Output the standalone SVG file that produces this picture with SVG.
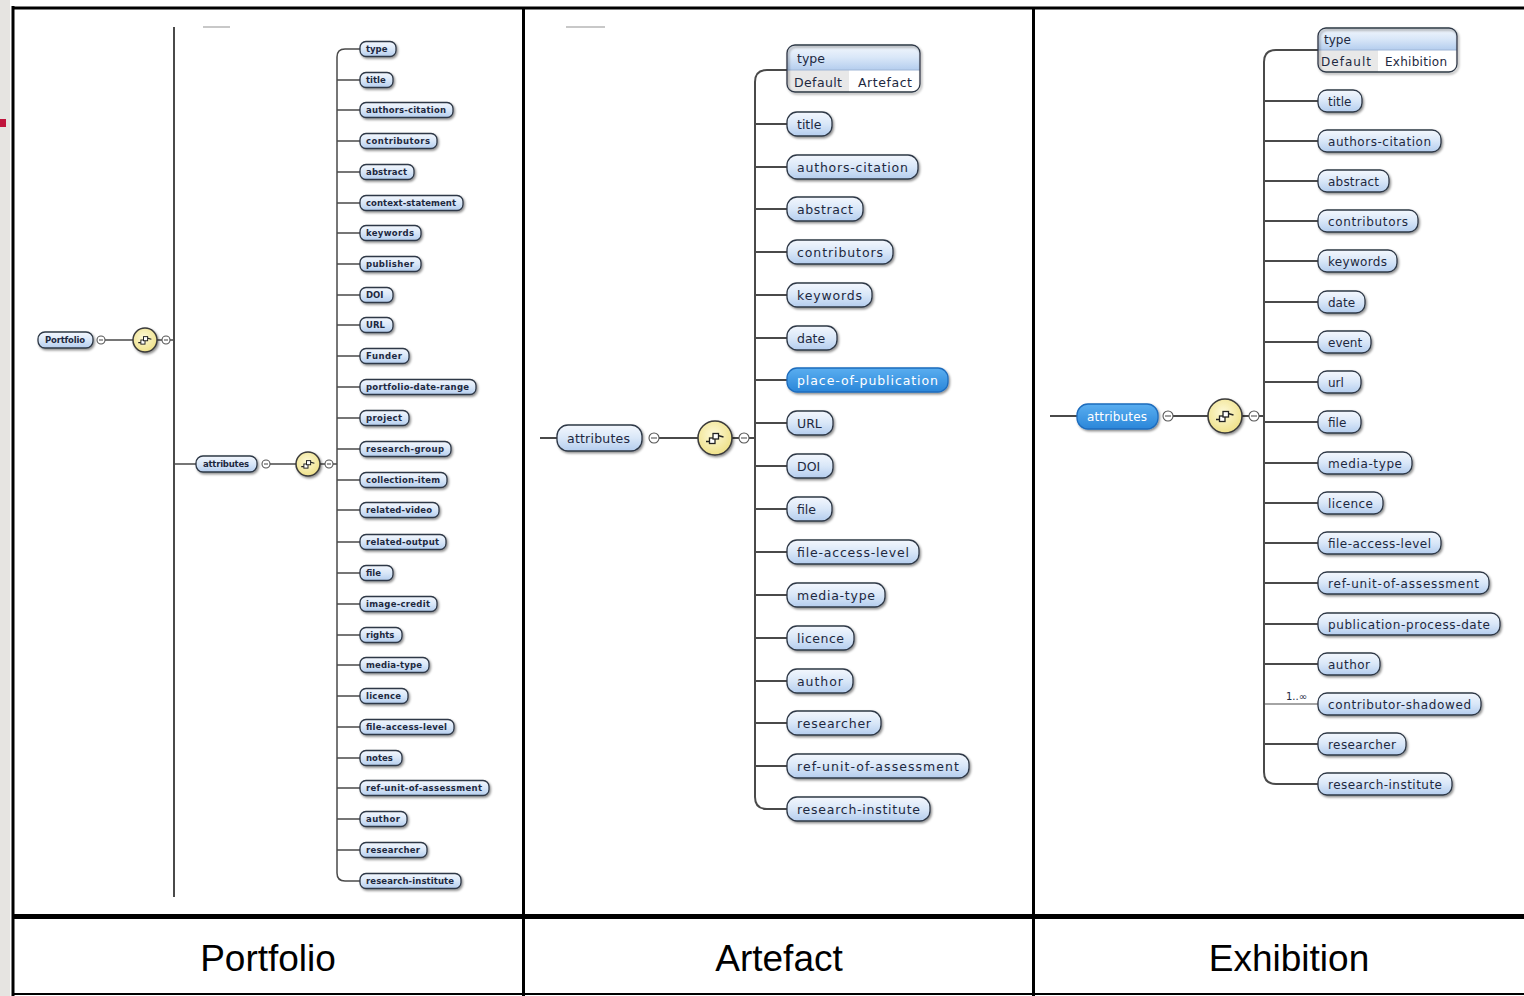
<svg xmlns="http://www.w3.org/2000/svg" xmlns:xlink="http://www.w3.org/1999/xlink" width="1524" height="996" viewBox="0 0 1524 996">
<defs>
<linearGradient id="gPill" x1="0" y1="0" x2="0" y2="1">
<stop offset="0" stop-color="#f3f7fd"/><stop offset="0.5" stop-color="#d9e7f8"/><stop offset="1" stop-color="#b4cdee"/>
</linearGradient>
<linearGradient id="gBlue" x1="0" y1="0" x2="0" y2="1">
<stop offset="0" stop-color="#5aaef0"/><stop offset="1" stop-color="#2a86d9"/>
</linearGradient>
<radialGradient id="gComp" cx="0.45" cy="0.4" r="0.6">
<stop offset="0" stop-color="#fdf9d8"/><stop offset="1" stop-color="#efe189"/>
</radialGradient>
<filter id="sh" x="-10%" y="-30%" width="125%" height="170%">
<feDropShadow dx="1.3" dy="1.6" stdDeviation="0.9" flood-color="#000" flood-opacity="0.45"/>
</filter>
<g id="seqicon">
<path d="M-9,3.5 H-5.5 M3,-2.5 L8.5,-1" fill="none" stroke="#222" stroke-width="1.4"/>
<rect x="-5.5" y="0" width="5.5" height="5.5" fill="#fff" stroke="#222" stroke-width="1.3"/>
<rect x="-2" y="-4.5" width="5.5" height="5.5" fill="#fff" stroke="#222" stroke-width="1.3"/>
</g>
</defs>
<style>
.pill{fill:url(#gPill);stroke:#2e3846;stroke-width:1.3;filter:url(#sh)}
.pblue{fill:url(#gBlue);stroke:#1e6cbd;stroke-width:1.3;filter:url(#sh)}
.tp{font-family:"DejaVu Sans",sans-serif;font-size:8.5px;font-weight:bold;fill:#1d2840}
.ta{font-family:"DejaVu Sans",sans-serif;font-size:12.5px;fill:#1d2840}
.te{font-family:"DejaVu Sans",sans-serif;font-size:12px;fill:#1d2840}
.tw{fill:#ffffff}
.conn{fill:none;stroke:#4a4a4a;stroke-width:2}
.connt{fill:none;stroke:#4a4a4a;stroke-width:1.5}
.comp{fill:url(#gComp);stroke:#3a3a3a;stroke-width:1.5;filter:url(#sh)}
.mc{fill:#fff;stroke:#555;stroke-width:1.1}
.ml{stroke:#555;stroke-width:1.1}
.frame{stroke:#000;fill:none}
.lbl{font-family:"Liberation Sans",Arial,sans-serif;font-size:37px;fill:#000;text-anchor:middle}
.hdr{fill:url(#gPill)}
.cell{fill:#e8e8e8}
.box{fill:none;stroke:#2e3846;stroke-width:1.3}
.faint{stroke:#c8c8c8;stroke-width:2}
.card{font-family:"DejaVu Sans",sans-serif;font-size:10px;fill:#1d2840}
</style>
<rect x="0" y="0" width="1524" height="996" fill="#ffffff"/>
<rect x="0" y="0" width="10" height="996" fill="#e6e4e1"/>
<rect x="0" y="119" width="6" height="8" fill="#c0143c"/>

<g id="frame">
<line class="frame" x1="13" y1="6" x2="13" y2="996" stroke-width="3"/>
<line class="frame" x1="12" y1="8" x2="1524" y2="8" stroke-width="3"/>
<line class="frame" x1="523.5" y1="7" x2="523.5" y2="996" stroke-width="3"/>
<line class="frame" x1="1033.5" y1="7" x2="1033.5" y2="996" stroke-width="3"/>
<line class="frame" x1="12" y1="916.5" x2="1524" y2="916.5" stroke-width="5"/>
<line class="frame" x1="12" y1="994" x2="1524" y2="994" stroke-width="2"/>
</g>

<g id="connectors">
<line class="faint" x1="203" y1="27" x2="230" y2="27"/>
<line class="faint" x1="566" y1="27" x2="605" y2="27"/>
<path class="connt" d="M105,340 H133 M157,340 H162 M170,340 H174"/>
<path class="conn" d="M174,27 V897"/>
<path class="connt" d="M174,464 H196 M270,464 H296 M320,464 H325 M333,464 H337"/>
<path class="connt" d="M360,49 H345 Q337,49 337,57 V873 Q337,881 345,881 H360"/>
<path class="connt" d="M337,80 H360 M337,110 H360 M337,141 H360 M337,172 H360 M337,203 H360 M337,233 H360 M337,264 H360 M337,295 H360 M337,325 H360 M337,356 H360 M337,387 H360 M337,418 H360 M337,449 H360 M337,480 H360 M337,510 H360 M337,542 H360 M337,573 H360 M337,604 H360 M337,635 H360 M337,665 H360 M337,696 H360 M337,727 H360 M337,758 H360 M337,788 H360 M337,819 H360 M337,850 H360"/>
<path class="conn" d="M540,438 H557 M659,438 H698 M732,438 H739 M749,438 H755"/>
<path class="conn" d="M787,70 H767 Q755,70 755,82 V797 Q755,809 767,809 H787"/>
<path class="conn" d="M755,124 H787 M755,167 H787 M755,209 H787 M755,252 H787 M755,295 H787 M755,338 H787 M755,380 H787 M755,423 H787 M755,466 H787 M755,509 H787 M755,552 H787 M755,595 H787 M755,638 H787 M755,681 H787 M755,723 H787 M755,766 H787"/>
<path class="conn" d="M1050,416 H1077 M1173,416 H1208 M1242,416 H1249 M1259,416 H1264"/>
<path class="conn" d="M1318,50 H1276 Q1264,50 1264,62 V772 Q1264,784 1276,784 H1318"/>
<path class="conn" d="M1264,101 H1318 M1264,141 H1318 M1264,181 H1318 M1264,221 H1318 M1264,261 H1318 M1264,302 H1318 M1264,342 H1318 M1264,382 H1318 M1264,422 H1318 M1264,463 H1318 M1264,503 H1318 M1264,543 H1318 M1264,583 H1318 M1264,624 H1318 M1264,664 H1318 M1264,744 H1318"/>
<path class="connt" d="M1264,704 H1318" style="stroke-width:1.2"/>
<text class="card" x="1286" y="700">1..∞</text>
</g>

<g id="p-root"><rect class="pill" x="38" y="332" width="55" height="16" rx="7"/><text class="tp" x="45" y="343" textLength="40">Portfolio</text></g>
<g id="p-root-minus"><circle class="mc" cx="101" cy="340" r="4"/><line class="ml" x1="99" y1="340" x2="103" y2="340"/></g>
<g id="p-seq1"><circle class="comp" cx="145" cy="340" r="12"/><use xlink:href="#seqicon" transform="translate(145,340) scale(0.75)"/></g>
<g id="p-seq1-minus"><circle class="mc" cx="166" cy="340" r="4"/><line class="ml" x1="164" y1="340" x2="168" y2="340"/></g>
<g id="p-attributes"><rect class="pill" x="196" y="456" width="61" height="16" rx="7"/><text class="tp" x="203" y="467" textLength="46">attributes</text></g>
<g id="p-attr-minus"><circle class="mc" cx="266" cy="464" r="4"/><line class="ml" x1="264" y1="464" x2="268" y2="464"/></g>
<g id="p-seq2"><circle class="comp" cx="308" cy="464" r="12"/><use xlink:href="#seqicon" transform="translate(308,464) scale(0.75)"/></g>
<g id="p-seq2-minus"><circle class="mc" cx="329" cy="464" r="4"/><line class="ml" x1="327" y1="464" x2="331" y2="464"/></g>

<g id="p-type"><rect class="pill" x="360" y="41.5" width="36" height="15" rx="6"/><text class="tp" x="366" y="52">type</text></g>
<g id="p-title"><rect class="pill" x="360" y="72.5" width="33" height="15" rx="6"/><text class="tp" x="366" y="83">title</text></g>
<g id="p-authors-citation"><rect class="pill" x="360" y="102.5" width="93" height="15" rx="6"/><text class="tp" x="366" y="113" textLength="80">authors-citation</text></g>
<g id="p-contributors"><rect class="pill" x="360" y="133.5" width="77" height="15" rx="6"/><text class="tp" x="366" y="144" textLength="64">contributors</text></g>
<g id="p-abstract"><rect class="pill" x="360" y="164.5" width="54" height="15" rx="6"/><text class="tp" x="366" y="175" textLength="41">abstract</text></g>
<g id="p-context-statement"><rect class="pill" x="360" y="195.5" width="103" height="15" rx="6"/><text class="tp" x="366" y="206" textLength="90">context-statement</text></g>
<g id="p-keywords"><rect class="pill" x="360" y="225.5" width="61" height="15" rx="6"/><text class="tp" x="366" y="236" textLength="48">keywords</text></g>
<g id="p-publisher"><rect class="pill" x="360" y="256.5" width="61" height="15" rx="6"/><text class="tp" x="366" y="267" textLength="48">publisher</text></g>
<g id="p-doi"><rect class="pill" x="360" y="287.5" width="33" height="15" rx="6"/><text class="tp" x="366" y="298">DOI</text></g>
<g id="p-url"><rect class="pill" x="360" y="317.5" width="33" height="15" rx="6"/><text class="tp" x="366" y="328">URL</text></g>
<g id="p-funder"><rect class="pill" x="360" y="348.5" width="49" height="15" rx="6"/><text class="tp" x="366" y="359" textLength="36">Funder</text></g>
<g id="p-portfolio-date-range"><rect class="pill" x="360" y="379.5" width="116" height="15" rx="6"/><text class="tp" x="366" y="390" textLength="103">portfolio-date-range</text></g>
<g id="p-project"><rect class="pill" x="360" y="410.5" width="49" height="15" rx="6"/><text class="tp" x="366" y="421" textLength="36">project</text></g>
<g id="p-research-group"><rect class="pill" x="360" y="441.5" width="91" height="15" rx="6"/><text class="tp" x="366" y="452" textLength="78">research-group</text></g>
<g id="p-collection-item"><rect class="pill" x="360" y="472.5" width="87" height="15" rx="6"/><text class="tp" x="366" y="483" textLength="74">collection-item</text></g>
<g id="p-related-video"><rect class="pill" x="360" y="502.5" width="79" height="15" rx="6"/><text class="tp" x="366" y="513" textLength="66">related-video</text></g>
<g id="p-related-output"><rect class="pill" x="360" y="534.5" width="86" height="15" rx="6"/><text class="tp" x="366" y="545" textLength="73">related-output</text></g>
<g id="p-file"><rect class="pill" x="360" y="565.5" width="33" height="15" rx="6"/><text class="tp" x="366" y="576">file</text></g>
<g id="p-image-credit"><rect class="pill" x="360" y="596.5" width="77" height="15" rx="6"/><text class="tp" x="366" y="607" textLength="64">image-credit</text></g>
<g id="p-rights"><rect class="pill" x="360" y="627.5" width="42" height="15" rx="6"/><text class="tp" x="366" y="638">rights</text></g>
<g id="p-media-type"><rect class="pill" x="360" y="657.5" width="69" height="15" rx="6"/><text class="tp" x="366" y="668" textLength="56">media-type</text></g>
<g id="p-licence"><rect class="pill" x="360" y="688.5" width="48" height="15" rx="6"/><text class="tp" x="366" y="699" textLength="35">licence</text></g>
<g id="p-file-access-level"><rect class="pill" x="360" y="719.5" width="94" height="15" rx="6"/><text class="tp" x="366" y="730" textLength="81">file-access-level</text></g>
<g id="p-notes"><rect class="pill" x="360" y="750.5" width="42" height="15" rx="6"/><text class="tp" x="366" y="761">notes</text></g>
<g id="p-ref-unit-of-assessment"><rect class="pill" x="360" y="780.5" width="129" height="15" rx="6"/><text class="tp" x="366" y="791" textLength="116">ref-unit-of-assessment</text></g>
<g id="p-author"><rect class="pill" x="360" y="811.5" width="47" height="15" rx="6"/><text class="tp" x="366" y="822" textLength="34">author</text></g>
<g id="p-researcher"><rect class="pill" x="360" y="842.5" width="67" height="15" rx="6"/><text class="tp" x="366" y="853" textLength="54">researcher</text></g>
<g id="p-research-institute"><rect class="pill" x="360" y="873.5" width="101" height="15" rx="6"/><text class="tp" x="366" y="884" textLength="88">research-institute</text></g>

<g id="a-attributes"><rect class="pill" x="557" y="425" width="85" height="26" rx="11"/><text class="ta" x="567" y="443" textLength="63">attributes</text></g>
<g id="a-attr-minus"><circle class="mc" cx="654" cy="438" r="5"/><line class="ml" x1="651" y1="438" x2="657" y2="438"/></g>
<g id="a-seq"><circle class="comp" cx="715" cy="438" r="17"/><use xlink:href="#seqicon" transform="translate(715,438)"/></g>
<g id="a-seq-minus"><circle class="mc" cx="744" cy="438" r="5"/><line class="ml" x1="741" y1="438" x2="747" y2="438"/></g>

<g id="a-type">
<path class="hdr" d="M787,70 V53 Q787,45 795,45 H912 Q920,45 920,53 V70 Z"/>
<path fill="#ffffff" d="M787,70 H920 V84 Q920,92 912,92 H795 Q787,92 787,84 Z"/>
<path class="cell" d="M787,70 H849 V92 H795 Q787,92 787,84 Z"/>
<line x1="787" y1="70" x2="920" y2="70" stroke="#9fb6d6" stroke-width="1"/>
<rect class="box" x="787" y="45" width="133" height="47" rx="8" style="filter:url(#sh)"/>
<text class="ta" x="797" y="63">type</text>
<text class="ta" x="794" y="87" textLength="48">Default</text>
<text class="ta" x="858" y="87" textLength="54">Artefact</text>
</g>
<g id="a-title"><rect class="pill" x="787" y="112" width="45" height="24" rx="10"/><text class="ta" x="797" y="128.5">title</text></g>
<g id="a-authors-citation"><rect class="pill" x="787" y="155" width="131" height="24" rx="10"/><text class="ta" x="797" y="171.5" textLength="111">authors-citation</text></g>
<g id="a-abstract"><rect class="pill" x="787" y="197" width="76" height="24" rx="10"/><text class="ta" x="797" y="213.5" textLength="56">abstract</text></g>
<g id="a-contributors"><rect class="pill" x="787" y="240" width="106" height="24" rx="10"/><text class="ta" x="797" y="256.5" textLength="86">contributors</text></g>
<g id="a-keywords"><rect class="pill" x="787" y="283" width="85" height="24" rx="10"/><text class="ta" x="797" y="299.5" textLength="65">keywords</text></g>
<g id="a-date"><rect class="pill" x="787" y="326" width="50" height="24" rx="10"/><text class="ta" x="797" y="342.5">date</text></g>
<g id="a-place-of-publication"><rect class="pblue" x="787" y="368" width="161" height="24" rx="10"/><text class="ta tw" x="797" y="384.5" textLength="141">place-of-publication</text></g>
<g id="a-url"><rect class="pill" x="787" y="411" width="46" height="24" rx="10"/><text class="ta" x="797" y="427.5">URL</text></g>
<g id="a-doi"><rect class="pill" x="787" y="454" width="46" height="24" rx="10"/><text class="ta" x="797" y="470.5">DOI</text></g>
<g id="a-file"><rect class="pill" x="787" y="497" width="45" height="24" rx="10"/><text class="ta" x="797" y="513.5">file</text></g>
<g id="a-file-access-level"><rect class="pill" x="787" y="540" width="132" height="24" rx="10"/><text class="ta" x="797" y="556.5" textLength="112">file-access-level</text></g>
<g id="a-media-type"><rect class="pill" x="787" y="583" width="98" height="24" rx="10"/><text class="ta" x="797" y="599.5" textLength="78">media-type</text></g>
<g id="a-licence"><rect class="pill" x="787" y="626" width="67" height="24" rx="10"/><text class="ta" x="797" y="642.5" textLength="47">licence</text></g>
<g id="a-author"><rect class="pill" x="787" y="669" width="66" height="24" rx="10"/><text class="ta" x="797" y="685.5" textLength="46">author</text></g>
<g id="a-researcher"><rect class="pill" x="787" y="711" width="94" height="24" rx="10"/><text class="ta" x="797" y="727.5" textLength="74">researcher</text></g>
<g id="a-ref-unit-of-assessment"><rect class="pill" x="787" y="754" width="182" height="24" rx="10"/><text class="ta" x="797" y="770.5" textLength="162">ref-unit-of-assessment</text></g>
<g id="a-research-institute"><rect class="pill" x="787" y="797" width="143" height="24" rx="10"/><text class="ta" x="797" y="813.5" textLength="123">research-institute</text></g>

<g id="e-attributes"><rect class="pblue" x="1077" y="404" width="81" height="25" rx="11"/><text class="te tw" x="1087" y="420.5" textLength="60">attributes</text></g>
<g id="e-attr-minus"><circle class="mc" cx="1168" cy="416" r="5"/><line class="ml" x1="1165" y1="416" x2="1171" y2="416"/></g>
<g id="e-seq"><circle class="comp" cx="1225" cy="416" r="17"/><use xlink:href="#seqicon" transform="translate(1225,416)"/></g>
<g id="e-seq-minus"><circle class="mc" cx="1254" cy="416" r="5"/><line class="ml" x1="1251" y1="416" x2="1257" y2="416"/></g>

<g id="e-type">
<path class="hdr" d="M1318,50 V36 Q1318,28 1326,28 H1449 Q1457,28 1457,36 V50 Z"/>
<path fill="#ffffff" d="M1318,50 H1457 V64 Q1457,72 1449,72 H1326 Q1318,72 1318,64 Z"/>
<path class="cell" d="M1318,50 H1378 V72 H1326 Q1318,72 1318,64 Z"/>
<line x1="1318" y1="50" x2="1457" y2="50" stroke="#9fb6d6" stroke-width="1"/>
<rect class="box" x="1318" y="28" width="139" height="44" rx="8" style="filter:url(#sh)"/>
<text class="te" x="1324" y="44">type</text>
<text class="te" x="1321" y="66" textLength="50">Default</text>
<text class="te" x="1385" y="66" textLength="62">Exhibition</text>
</g>
<g id="e-title"><rect class="pill" x="1318" y="90" width="44" height="22" rx="9"/><text class="te" x="1328" y="105.5">title</text></g>
<g id="e-authors-citation"><rect class="pill" x="1318" y="130" width="123" height="22" rx="9"/><text class="te" x="1328" y="145.5" textLength="103">authors-citation</text></g>
<g id="e-abstract"><rect class="pill" x="1318" y="170" width="71" height="22" rx="9"/><text class="te" x="1328" y="185.5" textLength="51">abstract</text></g>
<g id="e-contributors"><rect class="pill" x="1318" y="210" width="100" height="22" rx="9"/><text class="te" x="1328" y="225.5" textLength="80">contributors</text></g>
<g id="e-keywords"><rect class="pill" x="1318" y="250" width="79" height="22" rx="9"/><text class="te" x="1328" y="265.5" textLength="59">keywords</text></g>
<g id="e-date"><rect class="pill" x="1318" y="291" width="47" height="22" rx="9"/><text class="te" x="1328" y="306.5">date</text></g>
<g id="e-event"><rect class="pill" x="1318" y="331" width="53" height="22" rx="9"/><text class="te" x="1328" y="346.5">event</text></g>
<g id="e-url"><rect class="pill" x="1318" y="371" width="43" height="22" rx="9"/><text class="te" x="1328" y="386.5">url</text></g>
<g id="e-file"><rect class="pill" x="1318" y="411" width="43" height="22" rx="9"/><text class="te" x="1328" y="426.5">file</text></g>
<g id="e-media-type"><rect class="pill" x="1318" y="452" width="94" height="22" rx="9"/><text class="te" x="1328" y="467.5" textLength="74">media-type</text></g>
<g id="e-licence"><rect class="pill" x="1318" y="492" width="65" height="22" rx="9"/><text class="te" x="1328" y="507.5" textLength="45">licence</text></g>
<g id="e-file-access-level"><rect class="pill" x="1318" y="532" width="123" height="22" rx="9"/><text class="te" x="1328" y="547.5" textLength="103">file-access-level</text></g>
<g id="e-ref-unit-of-assessment"><rect class="pill" x="1318" y="572" width="171" height="22" rx="9"/><text class="te" x="1328" y="587.5" textLength="151">ref-unit-of-assessment</text></g>
<g id="e-publication-process-date"><rect class="pill" x="1318" y="613" width="182" height="22" rx="9"/><text class="te" x="1328" y="628.5" textLength="162">publication-process-date</text></g>
<g id="e-author"><rect class="pill" x="1318" y="653" width="62" height="22" rx="9"/><text class="te" x="1328" y="668.5" textLength="42">author</text></g>
<g id="e-contributor-shadowed"><rect class="pill" x="1318" y="693" width="163" height="22" rx="9"/><text class="te" x="1328" y="708.5" textLength="143">contributor-shadowed</text></g>
<g id="e-researcher"><rect class="pill" x="1318" y="733" width="88" height="22" rx="9"/><text class="te" x="1328" y="748.5" textLength="68">researcher</text></g>
<g id="e-research-institute"><rect class="pill" x="1318" y="773" width="134" height="22" rx="9"/><text class="te" x="1328" y="788.5" textLength="114">research-institute</text></g>

<g id="labels">
<text class="lbl" x="268" y="971">Portfolio</text>
<text class="lbl" x="779" y="971">Artefact</text>
<text class="lbl" x="1289" y="971">Exhibition</text>
</g>
</svg>
